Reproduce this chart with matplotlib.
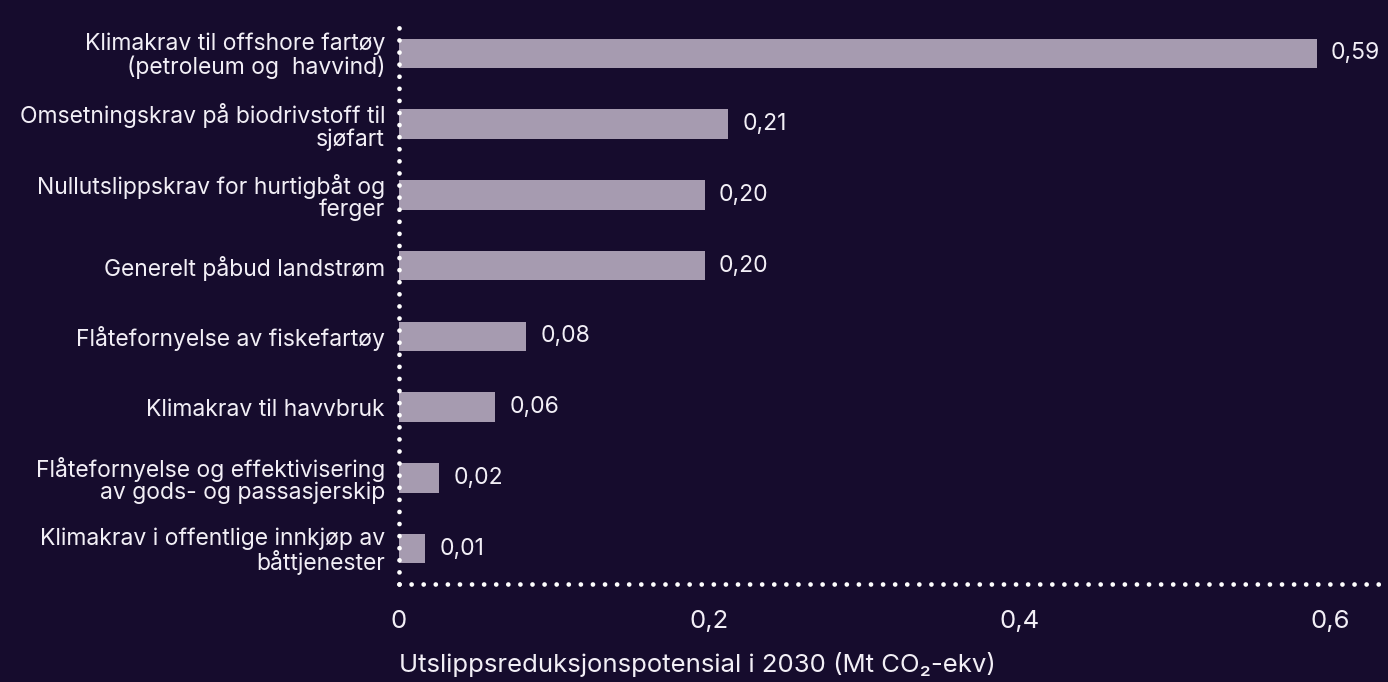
import matplotlib.pyplot as plt
from matplotlib.lines import Line2D

# Data
categories = [
    "Klimakrav til offshore fartøy\n(petroleum og  havvind)",
    "Omsetningskrav på biodrivstoff til\nsjøfart",
    "Nullutslippskrav for hurtigbåt og\nferger",
    "Generelt påbud landstrøm",
    "Flåtefornyelse av fiskefartøy",
    "Klimakrav til havvbruk",
    "Flåtefornyelse og effektivisering\nav gods- og passasjerskip",
    "Klimakrav i offentlige innkjøp av\nbåttjenester",
]
values = [0.591, 0.212, 0.197, 0.197, 0.082, 0.062, 0.026, 0.017]
value_labels = ["0,59", "0,21", "0,20", "0,20", "0,08", "0,06", "0,02", "0,01"]
x_ticks = [0, 0.2, 0.4, 0.6]
x_tick_labels = ["0", "0,2", "0,4", "0,6"]
x_title = "Utslippsreduksjonspotensial i 2030 (Mt CO₂-ekv)"

bg = "#160c2d"
bar_color = "#a69bb0"
text_color = "#f2eff6"

plt.rcParams['font.family'] = ['Inter', 'DejaVu Sans']
fs = 16.5

fig = plt.figure(figsize=(13.88, 6.82), dpi=100, facecolor=bg)
ax = fig.add_axes([399 / 1388, 1 - 584 / 682, (1385 - 399) / 1388, (584 - 18) / 682])
ax.set_facecolor(bg)

ypos = list(range(len(categories)))
ax.barh(ypos, values, height=0.42, color=bar_color)

for y, v, lab in zip(ypos, values, value_labels):
    ax.text(v + 0.009, y, lab, va='center', ha='left', fontsize=fs, color=text_color)

ax.set_xlim(0, 0.635)
ax.set_ylim(7.5, -0.5)
ax.set_yticks(ypos)
ax.set_yticklabels(categories, fontsize=fs, color=text_color, linespacing=1.02)
ax.set_xticks(x_ticks)
ax.set_xticklabels(x_tick_labels, fontsize=18.5, color=text_color)
ax.tick_params(axis='both', length=0)
ax.tick_params(axis='y', pad=10)
ax.tick_params(axis='x', pad=19)

for s in ax.spines.values():
    s.set_visible(False)

# dotted axes
dot = dict(color='white', linewidth=3.4, linestyle=(0, (0.01, 2.55)),
           dash_capstyle='round', transform=ax.transAxes, clip_on=False)
ax.add_line(Line2D([0, 0], [0, 1], **dot))
ax.add_line(Line2D([0, 1], [0, 0], **dot))

ax.text(0, -0.142, x_title, transform=ax.transAxes, ha='left', va='center',
        fontsize=18.5, color=text_color)

fig.savefig("out.png", dpi=100, facecolor=bg)
